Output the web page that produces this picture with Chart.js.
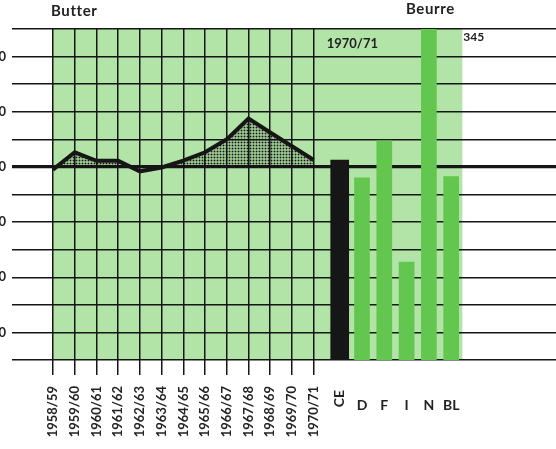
<!DOCTYPE html>
<html>
<head>
<meta charset="utf-8">
<script src="https://cdn.jsdelivr.net/npm/chart.js@4.4.1/dist/chart.umd.min.js"></script>
<style>
  html, body { margin: 0; padding: 0; background: #fff; }
  #page { position: relative; width: 556px; height: 449px; overflow: hidden; }
  /* le canevas déborde à gauche : seules les dernières chiffres des graduations restent visibles */
  #wrap { position: absolute; left: -30px; top: 0; width: 600px; height: 449px; }
  .titre { position: absolute; font: bold 15px Lato, sans-serif; color: #222; letter-spacing: 0.6px; }
</style>
</head>
<body>
<div id="page">
  <div id="wrap"><canvas id="graf" width="600" height="449"></canvas></div>
  <div class="titre" style="left:51px; top:1px">Butter</div>
  <div class="titre" style="left:406px; top:-1px">Beurre</div>
</div>
<script>
// ── Données ───────────────────────────────────
const annees = ['1958/59', '1959/60', '1960/61', '1961/62', '1962/63', '1963/64', '1964/65',
                '1965/66', '1966/67', '1967/68', '1968/69', '1969/70', '1970/71']
const indiceBeurre = [99, 105.3, 102.2, 102.2, 98.4, 99.8, 102.3, 105.3, 110, 117.5, 112.5, 107.5, 102.5]

const pays        = ['CE', 'D', 'F', 'I', 'N', 'BL']
const valeursPays = [102.5, 96, 109.5, 65.5, 345, 96.5]

const graduations = [40, 60, 80, 100, 120, 140]

// ── Couleurs ──────────────────────────────────
const VERT_CLAIR = '#b1e4a6'
const VERT       = '#63c64e'
const NOIR       = '#161616'
const POLICE     = 'Lato, sans-serif'

// motif pointillé pour la surface au-dessus de 100
function motifPoints() {
  const c = document.createElement('canvas')
  c.width = 3; c.height = 3
  const g = c.getContext('2d')
  g.fillStyle = '#111'
  g.fillRect(0.6, 0.6, 1.8, 1.8)
  return g.createPattern(c, 'repeat')
}

// ── Plugins ───────────────────────────────────
const fondVert = {
  id: 'fondVert',
  beforeDraw(chart) {
    const { ctx, chartArea, scales } = chart
    const x0 = scales.x.getPixelForValue(0)
    const x1 = scales.xb.getPixelForValue(pays.length - 0.5)
    ctx.save()
    ctx.fillStyle = VERT_CLAIR
    ctx.fillRect(x0, chartArea.top, x1 - x0, chartArea.bottom - chartArea.top)
    ctx.restore()
  }
}

const textes = {
  id: 'textes',
  afterDraw(chart) {
    const { ctx, chartArea, scales } = chart
    const xb = scales.xb
    ctx.save()
    ctx.fillStyle = '#222'

    // année de référence des barres
    ctx.font = `bold 13px ${POLICE}`
    ctx.textAlign = 'left'
    ctx.textBaseline = 'alphabetic'
    ctx.fillText(annees[annees.length - 1], scales.x.getPixelForValue(annees.length - 1) + 13, chartArea.top + 19)

    // valeur hors échelle
    ctx.font = `bold 12px ${POLICE}`
    valeursPays.forEach((v, i) => {
      if (v > scales.y.max) ctx.fillText(String(v), xb.getPixelForValue(pays.length - 0.5) + 1, chartArea.top + 12)
    })

    // étiquettes des barres : CE vertical, les pays à plat
    ctx.font = `bold 14px ${POLICE}`
    pays.forEach((p, i) => {
      const px = xb.getPixelForValue(i)
      if (i === 0) {
        ctx.save()
        ctx.translate(px, chartArea.bottom + 30)
        ctx.rotate(-Math.PI / 2)
        ctx.textAlign = 'right'
        ctx.textBaseline = 'middle'
        ctx.fillText(p, 0, 0)
        ctx.restore()
      } else {
        ctx.textAlign = 'center'
        ctx.textBaseline = 'alphabetic'
        ctx.fillText(p, px, chartArea.bottom + 50)
      }
    })
    ctx.restore()
  }
}

// ── Graphique ─────────────────────────────────
const ctx = document.getElementById('graf').getContext('2d')

new Chart(ctx, {
  type: 'line',
  data: {
    datasets: [
      {
        type: 'line',
        label: 'Butter',
        xAxisID: 'x',
        data: indiceBeurre.map((v, i) => ({ x: i, y: v })),
        borderColor: NOIR,
        borderWidth: 4,
        borderJoinStyle: 'miter',
        pointRadius: 0,
        tension: 0,
        fill: { target: { value: 100 }, above: motifPoints(), below: 'rgba(0,0,0,0)' }
      },
      {
        type: 'bar',
        label: 'CE',
        xAxisID: 'xb',
        data: [{ x: 0, y: valeursPays[0] }],
        backgroundColor: NOIR,
        barThickness: 18,
        grouped: false
      },
      {
        type: 'bar',
        label: 'Pays',
        xAxisID: 'xb',
        data: valeursPays.slice(1).map((v, i) => ({ x: i + 1, y: v })),
        backgroundColor: VERT,
        barThickness: 15,
        grouped: false
      }
    ]
  },
  options: {
    responsive: false,
    animation: false,
    layout: { padding: { top: 29, left: 0, right: 0, bottom: 0 } },
    plugins: { legend: { display: false }, tooltip: { enabled: false } },
    scales: {
      x: {
        type: 'linear',
        position: 'bottom',
        min: 0,
        max: 23.8,
        offset: false,
        border: { display: false },
        afterFit: (s) => { s.height = 89; s.paddingLeft = 0; s.paddingRight = 0 },
        grid: {
          color: (c) => (c.tick && c.tick.value >= 0 && c.tick.value < annees.length && Number.isInteger(c.tick.value)) ? NOIR : 'rgba(0,0,0,0)',
          lineWidth: 1.5,
          tickLength: 15
        },
        ticks: {
          stepSize: 1,
          autoSkip: false,
          minRotation: 90,
          maxRotation: 90,
          padding: 11,
          color: '#222',
          font: { family: POLICE, size: 13, weight: 'bold' },
          callback: (v) => annees[v] || ''
        }
      },
      xb: {
        type: 'linear',
        display: false,
        offset: false,
        min: -12.86,
        max: 10.33
      },
      y: {
        position: 'left',
        min: 30,
        max: 150,
        beginAtZero: false,
        z: 1,
        border: { display: false },
        afterFit: (s) => { s.width = 83 },
        grid: {
          color: NOIR,
          lineWidth: (c) => (c.tick && c.tick.value === 100) ? 3.2 : 1.5,
          tickLength: 41
        },
        ticks: {
          stepSize: 10,
          autoSkip: false,
          padding: 6,
          color: '#222',
          font: { family: POLICE, size: 13, weight: 'bold' },
          callback: (v) => graduations.includes(v) ? v : ''
        }
      }
    }
  },
  plugins: [fondVert, textes]
})
</script>
</body>
</html>
